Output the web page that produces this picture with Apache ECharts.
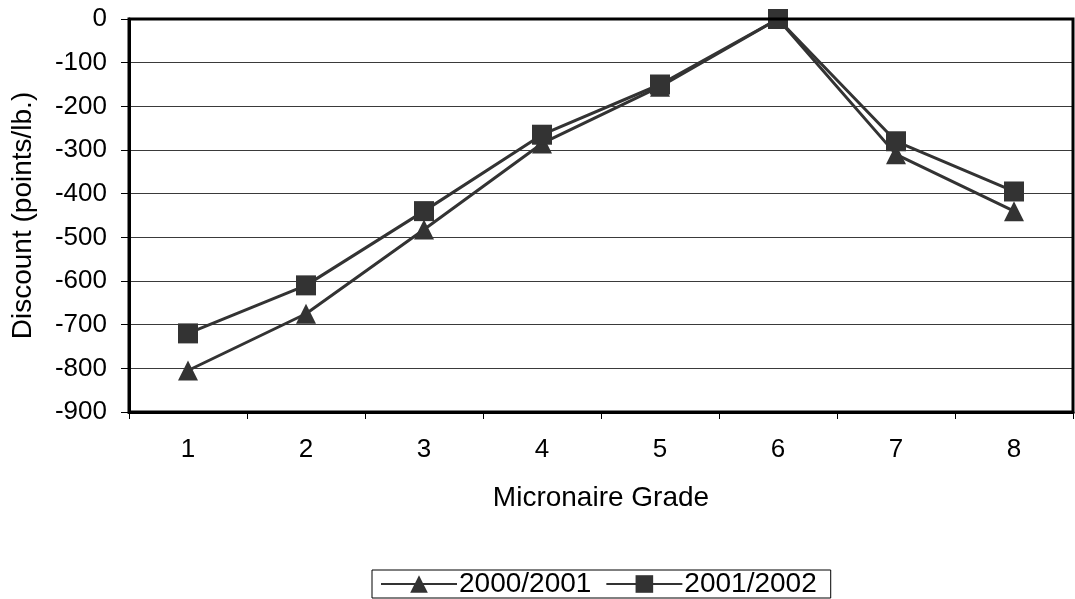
<!DOCTYPE html>
<html>
<head>
<meta charset="utf-8">
<script src="https://cdn.jsdelivr.net/npm/echarts@6/dist/echarts.min.js"></script>
<style>
  html, body { margin: 0; padding: 0; background: #fff; }
  #chart { width: 1075px; height: 599px; }
</style>
</head>
<body>
<div id="chart"></div>
<script>
// Micronaire grade discounts, points per pound
const grades = ['1', '2', '3', '4', '5', '6', '7', '8'];
const season2000 = [-805, -675, -482, -285, -155, 0, -310, -440];
const season2001 = [-720, -610, -440, -265, -150, 0, -280, -395];
const seriesNames = ['2000/2001', '2001/2002'];

const font = 'Liberation Sans, Arial, sans-serif';
const ink = '#333333';

const chart = echarts.init(document.getElementById('chart'), null, { renderer: 'canvas' });

chart.setOption({
  backgroundColor: '#ffffff',
  animation: false,
  grid: { left: 129, top: 19, right: 2, bottom: 187, containLabel: false,
          show: true, borderColor: '#000', borderWidth: 3, backgroundColor: 'transparent', z: 5 },
  legend: {
    data: seriesNames,
    bottom: 1,
    left: 372,
    itemWidth: 76,
    itemHeight: 22,
    itemGap: 14,
    padding: [0, 14, 0, 8],
    borderColor: '#000',
    borderWidth: 1,
    lineStyle: { width: 2 },
    textStyle: { fontFamily: font, fontSize: 28, color: '#000', padding: [0, 0, 0, -3] }
  },
  xAxis: {
    type: 'category',
    data: grades,
    boundaryGap: true,
    name: 'Micronaire Grade',
    nameLocation: 'middle',
    nameGap: 72,
    nameTextStyle: { fontFamily: font, fontSize: 28, color: '#000' },
    axisLine: { show: true, onZero: false, lineStyle: { color: '#000', width: 3 } },
    axisTick: { show: true, length: 7, alignWithLabel: false, lineStyle: { color: '#000', width: 1 } },
    axisLabel: { fontFamily: font, fontSize: 26, color: '#000', margin: 25 },
    splitLine: { show: false }
  },
  yAxis: {
    type: 'value',
    min: -900,
    max: 0,
    interval: 100,
    name: 'Discount (points/lb.)',
    nameLocation: 'middle',
    nameGap: 92,
    nameTextStyle: { fontFamily: font, fontSize: 28, color: '#000' },
    axisLine: { show: true, lineStyle: { color: '#000', width: 3 } },
    axisTick: { show: true, length: 8, lineStyle: { color: '#000', width: 1 } },
    axisLabel: { fontFamily: font, fontSize: 26, color: '#000', margin: 22 },
    splitLine: { show: true, lineStyle: { color: '#3a3a3a', width: 1 } }
  },
  series: [
    {
      name: seriesNames[0],
      type: 'line',
      data: season2000,
      symbol: 'triangle',
      symbolSize: 20,
      itemStyle: { color: ink },
      lineStyle: { color: ink, width: 3 },
      z: 3
    },
    {
      name: seriesNames[1],
      type: 'line',
      data: season2001,
      symbol: 'rect',
      symbolSize: 20,
      itemStyle: { color: ink },
      lineStyle: { color: ink, width: 3 },
      z: 4
    }
  ]
});
</script>
</body>
</html>
